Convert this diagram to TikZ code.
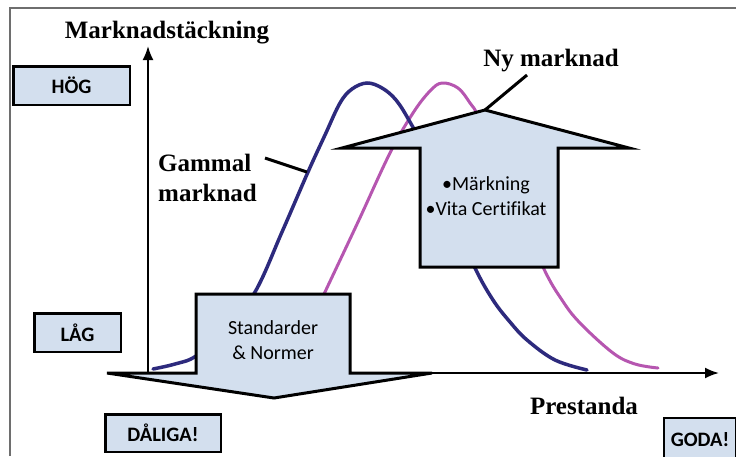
\documentclass[tikz,border=0pt]{standalone}
\usepackage{fontspec}
\setmainfont{Liberation Serif}
\newfontfamily\calibfont[Ligatures=NoCommon]{Carlito}
\usetikzlibrary{positioning, arrows.meta}
\definecolor{mkBlue}{RGB}{45,42,125}
\definecolor{mkPink}{RGB}{182,86,176}
\definecolor{mkFill}{RGB}{211,223,238}
\definecolor{mkFrame}{RGB}{110,110,110}

\begin{document}
\begin{tikzpicture}[x=1pt, y=-1pt,
    kat/.style={draw, line width=2.5pt, fill=mkFill, inner sep=0pt, font=\calibfont\fontsize{20.5}{22}\selectfont\bfseries},
    rub/.style={inner sep=0pt, font=\fontsize{25}{30}\selectfont\bfseries},
    pil/.style={draw, line width=3pt, fill=mkFill, line join=miter},
    piltext/.style={align=center, inner sep=0pt, font=\calibfont\fontsize{20}{24.5}\selectfont},
    kurva/.style={line width=3pt, line cap=round},
    axel/.style={line width=2pt, -{Latex[length=14pt, width=11pt]}},
    leder/.style={line width=3pt}
  ]
    \useasboundingbox (0,0) rectangle (736,456);
    \clip (0,0) rectangle (736,456);
    \fill[white] (0,0) rectangle (736,456);

    % ram
    \draw[mkFrame, line width=1.5pt] (10,456) -- (10,8) -- (736,8);

    % axlar
    \coordinate (orig) at (148,373);
    \coordinate (ytop) at (148,46);
    \coordinate (xend) at (719,373);
    \draw[axel] (orig) -- (ytop);
    \draw[axel] (orig) -- (xend);
    \node[rub] (ytitel) at (167,33) {Marknadstäckning};
    \node[rub] (xtitel) at (584,406) {Prestanda};

    % kurvor
    \draw[kurva, mkPink] plot[smooth, tension=0.6] coordinates {
      (262,369) (300,345) (325,292) (358,222) (390,153) (413,113) (430,91)
      (442,83) (458,88) (470,103) (480,120) (510,190) (543,267) (562,300)
      (580,323) (613,353) (635,364) (658,368)};
    \draw[kurva, mkBlue, line width=3.5pt] plot[smooth, tension=0.6] coordinates {
      (153,369) (175,364) (196,356) (225,330) (255,292) (282,232) (308,172)
      (325,135) (340,103) (352,89) (367,83) (382,88) (396,100) (410,122)
      (430,160) (452,215) (475,268) (493,300) (510,322) (527,340) (555,360)
      (587,370)};

    % pilar
    \draw[pil] (196,294) -- (350,294) -- (350,373) -- (432,373) -- (274,398)
      -- (107,373) -- (196,373) -- cycle;
    \node[piltext] (standard) at (273,340) {Standarder\\\& Normer};

    \coordinate (uptip) at (485,110);
    \draw[pil] (420,267) -- (558,267) -- (558,148) -- (629,148) -- (uptip)
      -- (342,148) -- (420,148) -- cycle;
    \node[piltext] (markning) at (486,196) {•Märkning\\•Vita Certifikat};

    % etiketter
    \node[rub] (ny) at (551,61) {Ny marknad};
    \coordinate (nyfot) at (527,75);
    \draw[leder] (uptip) -- (nyfot);

    \node[rub, anchor=west, align=left, font=\fontsize{25}{30}\selectfont\bfseries] (gammal) at (158,178) {Gammal\\marknad};
    \coordinate (gstart) at (265,158);
    \coordinate (gpkt) at (307,172);
    \draw[leder] (gstart) -- (gpkt);

    % nivåer
    \node[kat, minimum width=116.5pt, minimum height=38.5pt] (hog) at (71.5,85.5) {HÖG};
    \node[kat, minimum width=86.5pt, minimum height=38.5pt] (lag) at (77.5,332.5) {LÅG};
    \node[kat, minimum width=115.5pt, minimum height=37.5pt] (daliga) at (163,433) {DÅLIGA!};
    \node[kat, minimum width=72.5pt, minimum height=44pt] (goda) at (700,440) {GODA!};
\end{tikzpicture}
\end{document}
